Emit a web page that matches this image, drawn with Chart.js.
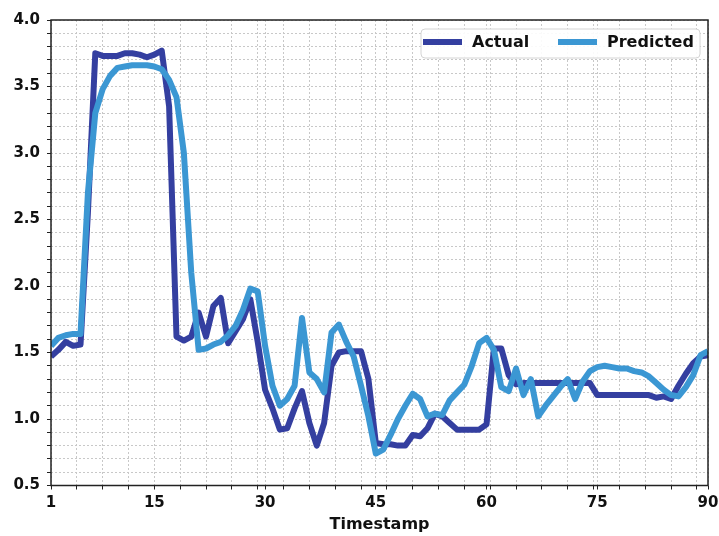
<!DOCTYPE html>
<html>
<head>
<meta charset="utf-8">
<script src="https://cdn.jsdelivr.net/npm/chart.js@4.4.0/dist/chart.umd.min.js"></script>
<style>
  body { margin: 0; background: #fff; }
  #wrap { width: 719px; height: 536px; }
</style>
</head>
<body>
<div id="wrap"><canvas id="chart" width="719" height="536"></canvas></div>
<script>
// timestamps 1..90
const timestamps = Array.from({ length: 90 }, (_, i) => i + 1);

const actual = [
  1.47, 1.52, 1.58, 1.55, 1.56, 2.55, 3.75, 3.73, 3.73, 3.73,
  3.75, 3.75, 3.74, 3.72, 3.74, 3.77, 3.35, 1.62, 1.59, 1.62,
  1.80, 1.62, 1.85, 1.91, 1.57, 1.66, 1.75, 1.90, 1.58, 1.22,
  1.08, 0.92, 0.93, 1.08, 1.21, 0.97, 0.80, 0.97, 1.40, 1.50,
  1.51, 1.51, 1.51, 1.30, 0.82, 0.81, 0.81, 0.80, 0.80, 0.88,
  0.87, 0.93, 1.04, 1.02, 0.97, 0.92, 0.92, 0.92, 0.92, 0.96,
  1.53, 1.53, 1.33, 1.26, 1.27, 1.27, 1.27, 1.27, 1.27, 1.27,
  1.27, 1.27, 1.27, 1.27, 1.18, 1.18, 1.18, 1.18, 1.18, 1.18,
  1.18, 1.18, 1.16, 1.17, 1.15, 1.25, 1.34, 1.42, 1.47, 1.48
];

const predicted = [
  1.55, 1.61, 1.63, 1.64, 1.64, 2.70, 3.30, 3.48, 3.58, 3.64,
  3.65, 3.66, 3.66, 3.66, 3.65, 3.63, 3.55, 3.42, 3.00, 2.10,
  1.52, 1.53, 1.56, 1.58, 1.63, 1.70, 1.82, 1.98, 1.96, 1.55,
  1.25, 1.10, 1.15, 1.25, 1.76, 1.35, 1.30, 1.20, 1.65, 1.71,
  1.58, 1.47, 1.25, 1.02, 0.74, 0.77, 0.88, 1.00, 1.10, 1.19,
  1.15, 1.02, 1.04, 1.03, 1.14, 1.20, 1.26, 1.40, 1.57, 1.61,
  1.52, 1.24, 1.21, 1.38, 1.18, 1.30, 1.02, 1.10, 1.17, 1.24,
  1.30, 1.15, 1.28, 1.36, 1.39, 1.40, 1.39, 1.38, 1.38, 1.36,
  1.35, 1.32, 1.27, 1.22, 1.18, 1.17, 1.24, 1.33, 1.48, 1.51
];

const xMajorTicks = [1, 15, 30, 45, 60, 75, 90];
const yMajorTicks = [0.5, 1.0, 1.5, 2.0, 2.5, 3.0, 3.5, 4.0];

const darkBlue = '#343fa0';
const lightBlue = '#3b97d3';
const gridColor = '#c8c8c8';
const tickFont = { family: 'DejaVu Sans', size: 15, weight: 'bold' };

// minor ticks: x every 3.5 starting at 1, y every 0.1
const xMinor = [];
for (let v = 1; v <= 90; v += 3.5) xMinor.push(v);
const yMinor = [];
for (let i = 5; i <= 40; i++) yMinor.push(i / 10);

function isMajor(list, v) {
  return list.some(m => Math.abs(m - v) < 1e-6);
}

// frame around the plot + legend box in the upper right
const framePlugin = {
  id: 'frameAndLegend',
  afterDraw(chart) {
    const { ctx, chartArea: a } = chart;
    ctx.save();
    ctx.strokeStyle = '#222';
    ctx.lineWidth = 1.5;
    ctx.strokeRect(a.left, a.top, a.right - a.left, a.bottom - a.top);

    // legend
    const bx = a.right - 287, by = a.top + 9, bw = 279, bh = 29;
    ctx.fillStyle = 'rgba(255,255,255,0.9)';
    ctx.strokeStyle = '#d4d4d4';
    ctx.lineWidth = 1;
    ctx.beginPath();
    ctx.roundRect(bx, by, bw, bh, 4);
    ctx.fill();
    ctx.stroke();

    const items = [
      { label: 'Actual', color: darkBlue, x: bx + 2 },
      { label: 'Predicted', color: lightBlue, x: bx + 137 }
    ];
    ctx.font = 'bold 16px "DejaVu Sans"';
    ctx.textBaseline = 'middle';
    ctx.textAlign = 'left';
    items.forEach(it => {
      ctx.strokeStyle = it.color;
      ctx.lineWidth = 6;
      ctx.beginPath();
      ctx.moveTo(it.x, by + 13);
      ctx.lineTo(it.x + 39, by + 13);
      ctx.stroke();
      ctx.fillStyle = '#111';
      ctx.fillText(it.label, it.x + 49, by + 14);
    });
    ctx.restore();
  }
};

new Chart(document.getElementById('chart'), {
  type: 'line',
  data: {
    datasets: [
      {
        label: 'Actual',
        data: timestamps.map((t, i) => ({ x: t, y: actual[i] })),
        borderColor: darkBlue,
        borderWidth: 6,
        pointRadius: 0,
        tension: 0,
        fill: false,
        borderJoinStyle: 'round',
        order: 2
      },
      {
        label: 'Predicted',
        data: timestamps.map((t, i) => ({ x: t, y: predicted[i] })),
        borderColor: lightBlue,
        borderWidth: 6,
        pointRadius: 0,
        tension: 0,
        fill: false,
        borderJoinStyle: 'round',
        order: 1
      }
    ]
  },
  options: {
    responsive: false,
    animation: false,
    layout: { padding: { left: 0, right: 11, top: 20, bottom: 0 } },
    plugins: {
      legend: { display: false },
      tooltip: { enabled: false }
    },
    scales: {
      x: {
        type: 'linear',
        min: 1,
        max: 90,
        afterBuildTicks: s => {
          const all = [...new Set([...xMajorTicks, ...xMinor])].sort((a, b) => a - b);
          s.ticks = all.map(v => ({ value: v }));
        },
        afterFit: s => {
          s.height = 50.5;
          s.paddingLeft = 0;
          s.paddingRight = 0;
        },
        ticks: {
          autoSkip: false,
          maxRotation: 0,
          padding: 5,
          color: '#111',
          font: tickFont,
          callback: v => isMajor(xMajorTicks, v) ? String(v) : ''
        },
        grid: {
          color: gridColor,
          lineWidth: 1,
          tickLength: 4,
          tickColor: '#222',
          tickBorderDash: []
        },
        border: { display: false, dash: [2, 2] },
        title: {
          display: true,
          text: 'Timestamp',
          color: '#111',
          font: { family: 'DejaVu Sans', size: 16, weight: 'bold' },
          padding: { top: 0, bottom: 2 }
        }
      },
      y: {
        min: 0.5,
        max: 4.0,
        afterBuildTicks: s => {
          s.ticks = yMinor.map(v => ({ value: v }));
        },
        afterFit: s => {
          s.width = 51;
          s.paddingTop = 0;
          s.paddingBottom = 0;
        },
        ticks: {
          autoSkip: false,
          padding: 7,
          color: '#111',
          font: tickFont,
          callback: v => isMajor(yMajorTicks, v) ? v.toFixed(1) : ''
        },
        grid: {
          color: gridColor,
          lineWidth: 1,
          tickLength: 4,
          tickColor: '#222',
          tickBorderDash: []
        },
        border: { display: false, dash: [2, 2] }
      }
    }
  },
  plugins: [framePlugin]
});
</script>
</body>
</html>
